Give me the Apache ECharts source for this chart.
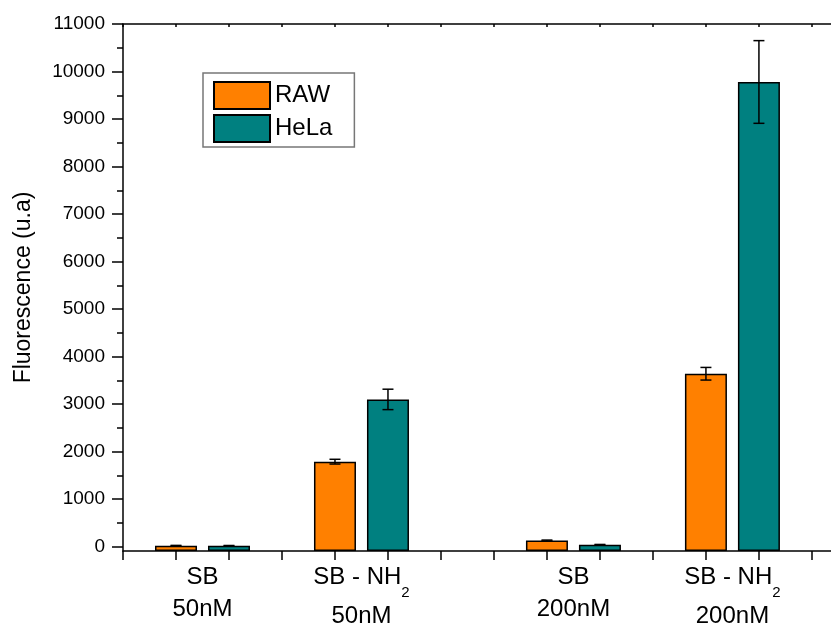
<!DOCTYPE html>
<html>
<head>
<meta charset="utf-8">
<script src="https://cdn.jsdelivr.net/npm/echarts@6/dist/echarts.min.js"></script>
<style>html,body{margin:0;padding:0;background:#fff}#c{width:831px;height:628px}</style>
</head>
<body>
<div id="c"></div>
<script>
// ---- data ----
const seriesNames = ['RAW', 'HeLa'];
const groupTop = ['SB', 'SB - NH', 'SB', 'SB - NH'];
const groupSub = ['', '2', '', '2'];
const groupConc = ['50nM', '50nM', '200nM', '200nM'];
const groupCenters = [1.5, 4.5, 8.5, 11.5];
const rawPos = [1, 4, 8, 11];
const helaPos = [2, 5, 9, 12];
const rawValues = [20, 1790, 130, 3640];
const rawErr = [8, 50, 10, 133];
const helaValues = [18, 3100, 40, 9780];
const helaErr = [8, 215, 8, 870];
const xTicks = [0,1,2,3,4,5,6,7,8,9,10,11,12,13];
const yLabels = [0,1000,2000,3000,4000,5000,6000,7000,8000,9000,10000,11000];
const yMinor = [500,1500,2500,3500,4500,5500,6500,7500,8500,9500,10500];

const FONT = "'Liberation Sans', Arial, sans-serif";
const chart = echarts.init(document.getElementById('c'));

function errRender(params, api) {
  const x = api.value(0), y = api.value(1), e = api.value(2);
  const top = api.coord([x, y + e]);
  const bot = api.coord([x, y - e]);
  const hw = 5.5;
  const st = {stroke: '#000', lineWidth: 1.5};
  return {type: 'group', children: [
    {type: 'line', shape: {x1: top[0], y1: top[1], x2: bot[0], y2: bot[1]}, style: st},
    {type: 'line', shape: {x1: top[0]-hw, y1: top[1], x2: top[0]+hw, y2: top[1]}, style: st},
    {type: 'line', shape: {x1: bot[0]-hw, y1: bot[1], x2: bot[0]+hw, y2: bot[1]}, style: st}
  ]};
}

const option = {
  animation: false,
  textStyle: {fontFamily: FONT},
  grid: {left: 123, right: 0, top: 24, bottom: 76},
  legend: {
    orient: 'vertical', left: 203, top: 73,
    itemWidth: 56, itemHeight: 27, itemGap: 4,
    padding: [8, 22, 4, 10],
    borderColor: '#777', borderWidth: 1.5,
    textStyle: {fontSize: 24, color: '#000', fontFamily: FONT},
    data: seriesNames.map(n => ({name: n, icon: 'rect'}))
  },
  xAxis: [
    {
      type: 'value', min: 0, max: 13.36, position: 'bottom',
      splitLine: {show: false},
      axisLine: {show: true, onZero: false, lineStyle: {color: '#000', width: 1.5}},
      axisTick: {show: true, customValues: xTicks, length: 9, lineStyle: {color: '#000', width: 1.5}},
      axisLabel: {
        show: true, customValues: groupCenters, margin: 10, color: '#000',
        formatter: function (v) {
          const i = groupCenters.indexOf(v);
          if (i < 0) return '';
          if (groupSub[i]) {
            return '{t|' + groupTop[i] + '}{s|' + groupSub[i] + '}{h|\u200b}\n{a|' + groupConc[i] + '}';
          }
          return '{a|' + groupTop[i] + '}\n{a|' + groupConc[i] + '}';
        },
        rich: {
          a: {fontSize: 24, lineHeight: 32, color: '#000', fontFamily: FONT},
          t: {fontSize: 24, lineHeight: 32, color: '#000', fontFamily: FONT, verticalAlign: 'top', padding: [4, 0, 0, 0]},
          s: {fontSize: 15, lineHeight: 21, color: '#000', fontFamily: FONT, verticalAlign: 'bottom'},
          h: {fontSize: 10, lineHeight: 39}
        }
      }
    },
    {
      type: 'value', min: 0, max: 13.36, position: 'top',
      splitLine: {show: false},
      axisLine: {show: true, onZero: false, lineStyle: {color: '#000', width: 1.5}},
      axisTick: {show: true, inside: true, customValues: xTicks, length: 3, lineStyle: {color: '#000', width: 1.5}},
      axisLabel: {show: false}
    }
  ],
  yAxis: [
    {
      type: 'value', min: -90, max: 11000, startValue: -90, position: 'left',
      name: 'Fluorescence (u.a)', nameLocation: 'middle', nameGap: 88,
      nameTextStyle: {fontSize: 23, color: '#000', fontFamily: FONT},
      splitLine: {show: false},
      axisLine: {show: true, onZero: false, lineStyle: {color: '#000', width: 1.5}},
      axisTick: {show: true, customValues: yLabels, length: 11, lineStyle: {color: '#000', width: 1.5}},
      axisLabel: {show: true, customValues: yLabels, margin: 18, fontSize: 19, color: '#000', fontFamily: FONT,
        formatter: v => String(v)}
    },
    {
      type: 'value', min: -90, max: 11000, position: 'left',
      splitLine: {show: false},
      axisLine: {show: false},
      axisTick: {show: true, customValues: yMinor, length: 6, lineStyle: {color: '#000', width: 1.5}},
      axisLabel: {show: false}
    }
  ],
  series: [
    {
      name: seriesNames[0], type: 'bar', barWidth: 42, barGap: '-100%',
      itemStyle: {color: '#FF8000', borderColor: '#000', borderWidth: 1.5},
      data: rawPos.map((x, i) => [x, rawValues[i]])
    },
    {
      name: seriesNames[1], type: 'bar', barWidth: 42, barGap: '-100%',
      itemStyle: {color: '#008080', borderColor: '#000', borderWidth: 1.5},
      data: helaPos.map((x, i) => [x, helaValues[i]])
    },
    {
      type: 'custom', renderItem: errRender, z: 5, silent: true,
      data: rawPos.map((x, i) => [x, rawValues[i], rawErr[i]])
    },
    {
      type: 'custom', renderItem: errRender, z: 5, silent: true,
      data: helaPos.map((x, i) => [x, helaValues[i], helaErr[i]])
    }
  ]
};
chart.setOption(option);
</script>
</body>
</html>
